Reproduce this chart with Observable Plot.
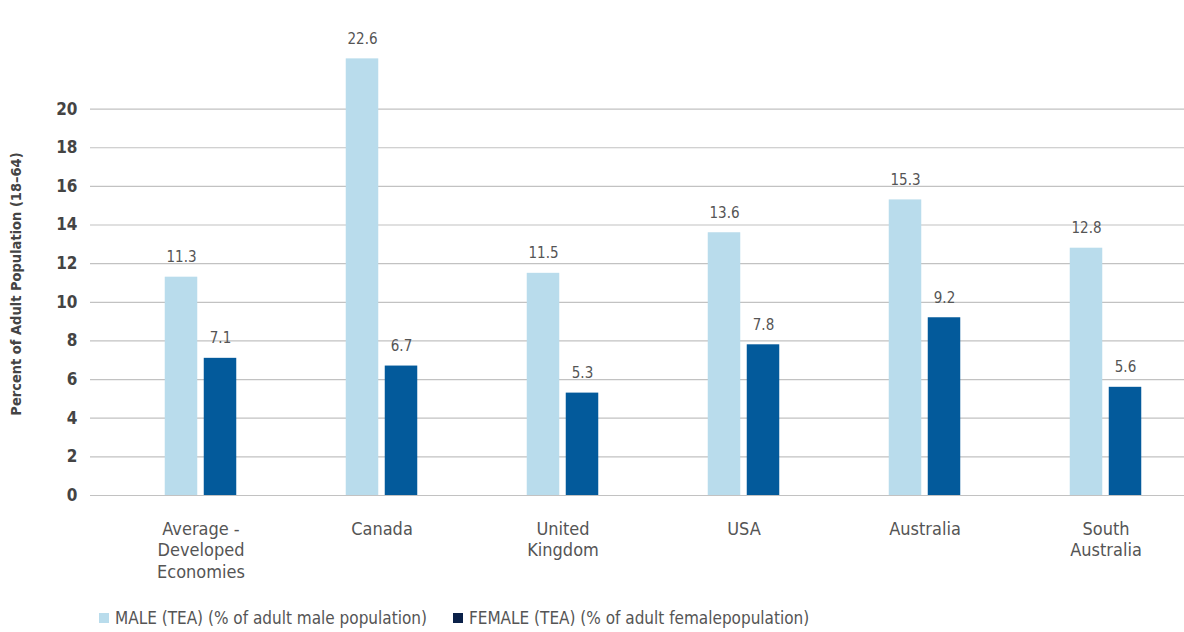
<!DOCTYPE html>
<html>
<head>
<meta charset="utf-8">
<script src="https://cdn.jsdelivr.net/npm/d3@7"></script>
<script src="https://cdn.jsdelivr.net/npm/@observablehq/plot@0.6"></script>
<style>
  html, body { margin: 0; padding: 0; background: #fff; }
  body { width: 1184px; font-family: "Liberation Sans Narrow", "DejaVu Sans Condensed", Roboto, sans-serif; }
  #chart svg { display: block; overflow: visible; }
  .legend { display: flex; align-items: center; height: 40px; padding: 8px 0 0 99px; color: #555; font-size: 17px; }
  .legend .item { display: inline-flex; align-items: center; margin-right: 26px; }
  .legend .sw { width: 10px; height: 10px; margin-right: 6px; display: inline-block; }
</style>
</head>
<body>
<div id="chart"></div>
<div class="legend" id="legend"></div>
<script>
// Total early-stage entrepreneurial activity (TEA), by sex
const categories = ["Average - Developed Economies", "Canada", "United Kingdom", "USA", "Australia", "South Australia"];
const categoryLabels = ["Average -\nDeveloped\nEconomies", "Canada", "United\nKingdom", "USA", "Australia", "South\nAustralia"];
const maleTEA = [11.3, 22.6, 11.5, 13.6, 15.3, 12.8];
const femaleTEA = [7.1, 6.7, 5.3, 7.8, 9.2, 5.6];
const yTicks = [0, 2, 4, 6, 8, 10, 12, 14, 16, 18, 20];
const seriesNames = ["MALE (TEA) (% of adult male population)", "FEMALE (TEA) (% of adult femalepopulation)"];
const yTitle = "Percent of Adult Population (18–64)";

const maleColor = "#b9dcec";
const femaleColor = "#035a9b";
const femaleSwatch = "#0b2149";

const rows = categories.map((c, i) => ({
  category: c,
  label: categoryLabels[i],
  male: maleTEA[i],
  female: femaleTEA[i]
}));

// Paired bars inside each category band
const xRange = [108.25, 1197.25];
const half = (xRange[1] - xRange[0]) / categories.length / 2;
const barW = 33, gap = 6;
const inner = gap / 2, outer = gap / 2 + barW;
const labelShift = gap / 2 + barW / 2;

const chart = Plot.plot({
  width: 1184,
  height: 590,
  marginLeft: 90,
  marginRight: 0,
  marginTop: 12,
  marginBottom: 95,
  style: { fontFamily: "'Liberation Sans Narrow', 'DejaVu Sans Condensed', Roboto, sans-serif", background: "#fff", overflow: "visible" },
  x: { type: "band", domain: categories, range: xRange, padding: 0, axis: null },
  y: { domain: [0, 25], axis: null },
  marks: [
    Plot.ruleY(yTicks, { stroke: "#c2c2c2", strokeWidth: 1.2 }),
    Plot.text(yTicks, { y: d => d, text: d => String(d), frameAnchor: "left", dx: -13, textAnchor: "end", fill: "#444", fontSize: 17, fontWeight: "bold" }),
    Plot.text([yTitle], { frameAnchor: "left", textAnchor: "middle", dx: -74, dy: 30, rotate: -90, fill: "#444", fontSize: 14.5, fontWeight: "bold" }),
    Plot.barY(rows, { x: "category", y: "male", fill: maleColor, insetLeft: half - outer, insetRight: half + inner }),
    Plot.barY(rows, { x: "category", y: "female", fill: femaleColor, insetLeft: half + inner, insetRight: half - outer }),
    Plot.text(rows, { x: "category", y: "male", text: d => d.male.toFixed(1), dx: -labelShift, dy: -20, fill: "#555", fontSize: 15 }),
    Plot.text(rows, { x: "category", y: "female", text: d => d.female.toFixed(1), dx: labelShift, dy: -20, fill: "#555", fontSize: 15 }),
    Plot.text(rows, { x: "category", text: "label", frameAnchor: "bottom", lineAnchor: "top", dy: 24, lineHeight: 1.2, fill: "#555", fontSize: 18 })
  ]
});
document.getElementById("chart").appendChild(chart);

// Legend below the plot
const legend = d3.select("#legend");
[[seriesNames[0], maleColor], [seriesNames[1], femaleSwatch]].forEach(([name, color]) => {
  const item = legend.append("span").attr("class", "item");
  item.append("span").attr("class", "sw").style("background", color);
  item.append("span").text(name);
});
</script>
</body>
</html>
